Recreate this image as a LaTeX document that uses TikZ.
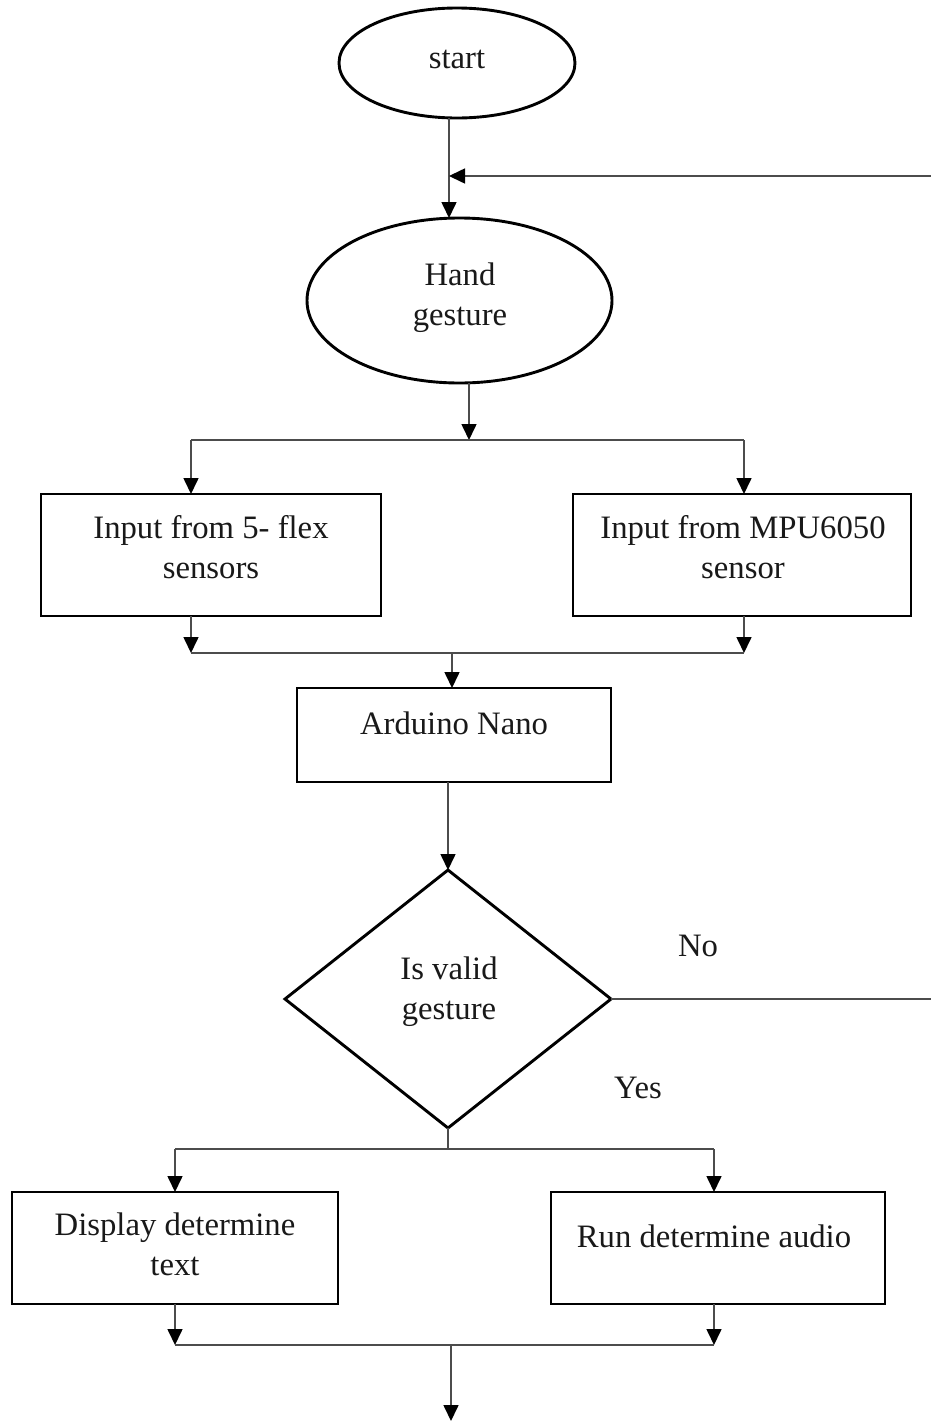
\documentclass[tikz,border=0pt]{standalone}
\usepackage{fontspec}
\setmainfont{Liberation Serif}
\usetikzlibrary{shapes.geometric,arrows.meta}
\newcommand\ls{\rule[-11pt]{0pt}{40pt}}
\begin{document}
\begin{tikzpicture}[x=1pt,y=-1pt,
  shapebox/.style={draw=black,line width=2.9pt,inner sep=0pt,outer sep=0pt},
  rectbox/.style={shapebox,rectangle},
  ovalbox/.style={shapebox,ellipse},
  decbox/.style={shapebox,diamond},
  txt/.style={inner sep=0pt,align=center,font=\fontsize{32.7}{40}\selectfont,text=black!90},
  conn/.style={draw=black!70,line width=1.6pt},
  arr/.style={conn,-{Triangle[length=16pt,width=15pt,black]}}]
\fill[white] (0,0) rectangle (931,1422);
\useasboundingbox (0,0) rectangle (931,1422);
% shapes
\node[ovalbox,minimum width=236pt,minimum height=110pt] (start) at (457,63) {};
\node[ovalbox,minimum width=305pt,minimum height=165pt] (hand) at (459.5,300.5) {};
\node[rectbox,minimum width=340pt,minimum height=122pt] (b1) at (211,555) {};
\node[rectbox,minimum width=338pt,minimum height=122pt] (b2) at (742,555) {};
\node[rectbox,minimum width=314pt,minimum height=94pt] (ard) at (454,735) {};
\node[decbox,minimum width=326pt,minimum height=258pt] (dia) at (448,999) {};
\node[rectbox,minimum width=326pt,minimum height=112pt] (b3) at (175,1248) {};
\node[rectbox,minimum width=334pt,minimum height=112pt] (b4) at (718,1248) {};
% texts
\node[txt] (tstart) at (457,59) {start\ls};
\node[txt] (thand) at (460,296) {Hand\ls\\gesture\ls};
\node[txt] (tb1) at (211,549) {Input from 5- flex\ls\\sensors\ls};
\node[txt] (tb2) at (743,549) {Input from MPU6050\ls\\sensor\ls};
\node[txt] (tard) at (454,725) {Arduino Nano\ls};
\node[txt] (tdia) at (449,990) {Is valid\ls\\gesture\ls};
\node[txt] (tno) at (698,947) {No\ls};
\node[txt] (tyes) at (638,1089) {Yes\ls};
\node[txt] (tb3) at (175,1246) {Display determine\ls\\text\ls};
\node[txt] (tb4) at (714,1238) {Run determine audio\ls};
% coordinates
\coordinate (c1) at (449,176);
\coordinate (r1) at (931,176);
\coordinate (sp1) at (469,440);
\coordinate (sp1l) at (191,440);
\coordinate (sp1r) at (744,440);
\coordinate (m1) at (452,653);
\coordinate (m1l) at (191,653);
\coordinate (m1r) at (744,653);
\coordinate (r2) at (931,999);
\coordinate (sp2) at (448,1149);
\coordinate (sp2l) at (175,1149);
\coordinate (sp2r) at (714,1149);
\coordinate (m2) at (451,1345);
\coordinate (m2l) at (175,1345);
\coordinate (m2r) at (714,1345);
\coordinate (endp) at (451,1421);
% connectors
\draw[conn] (c1 |- start.south) -- (c1);
\draw[arr] (c1) -- (c1 |- hand.north);
\draw[arr] (r1) -- (c1);
\draw[arr] (hand.south -| sp1) -- (sp1);
\draw[conn] (sp1l) -- (sp1r);
\draw[arr] (sp1l) -- (sp1l |- b1.north);
\draw[arr] (sp1r) -- (sp1r |- b2.north);
\draw[arr] (m1l |- b1.south) -- (m1l);
\draw[arr] (m1r |- b2.south) -- (m1r);
\draw[conn] (m1l) -- (m1r);
\draw[arr] (m1) -- (m1 |- ard.north);
\draw[arr] (dia.north |- ard.south) -- (dia.north);
\draw[conn] (dia.east) -- (r2);
\draw[conn] (dia.south) -- (sp2);
\draw[conn] (sp2l) -- (sp2r);
\draw[arr] (sp2l) -- (sp2l |- b3.north);
\draw[arr] (sp2r) -- (sp2r |- b4.north);
\draw[arr] (m2l |- b3.south) -- (m2l);
\draw[arr] (m2r |- b4.south) -- (m2r);
\draw[conn] (m2l) -- (m2r);
\draw[arr] (m2) -- (endp);
\end{tikzpicture}
\end{document}
